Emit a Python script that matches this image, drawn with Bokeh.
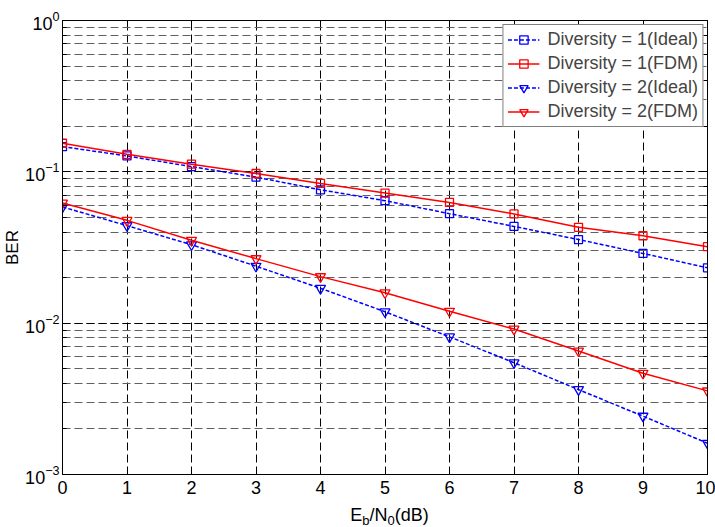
from bokeh.plotting import figure
from bokeh.layouts import column
from bokeh.models import LogAxis, LinearAxis, FixedTicker, Div
from bokeh.embed import file_html
from bokeh.resources import INLINE

ebn0 = [0, 1, 2, 3, 4, 5, 6, 7, 8, 9, 10]
div1_ideal = [0.1467, 0.1274, 0.1083, 0.0923, 0.0761, 0.0645, 0.0529, 0.0436, 0.0357, 0.0289, 0.0232]
div1_fdm = [0.1545, 0.1306, 0.1124, 0.0975, 0.0838, 0.0724, 0.0628, 0.0527, 0.0430, 0.0378, 0.0320]
div2_ideal = [0.0586, 0.0441, 0.0330, 0.0238, 0.0170, 0.0119, 0.00812, 0.00548, 0.00364, 0.00243, 0.00161]
div2_fdm = [0.0622, 0.0478, 0.0353, 0.0267, 0.0203, 0.0159, 0.0120, 0.00914, 0.00655, 0.00467, 0.00357]
x_ticks = [0, 1, 2, 3, 4, 5, 6, 7, 8, 9, 10]
labels = ["Diversity = 1(Ideal)", "Diversity = 1(FDM)", "Diversity = 2(Ideal)", "Diversity = 2(FDM)"]

FONT = "Liberation Sans"
FS = "18px"

p = figure(width=715, height=501, y_axis_type="log", x_range=(0, 10), y_range=(1e-3, 1),
           output_backend="svg", toolbar_location=None,
           min_border_left=62, min_border_right=8, min_border_top=20, min_border_bottom=27)
p.outline_line_color = "black"
p.outline_line_width = 1
p.background_fill_color = "white"

# grids
p.xgrid.ticker = FixedTicker(ticks=x_ticks)
p.xgrid.grid_line_color = "black"
p.xgrid.grid_line_dash = "8 4"
p.xgrid.grid_line_width = 1
p.ygrid.grid_line_color = "black"
p.ygrid.grid_line_dash = "8 4"
p.ygrid.grid_line_width = 1
p.ygrid.minor_grid_line_color = "#606060"
p.ygrid.minor_grid_line_dash = "8 4"
p.ygrid.minor_grid_line_width = 1

# axes
p.xaxis.ticker = FixedTicker(ticks=x_ticks)
for ax in (p.xaxis[0], p.yaxis[0]):
    ax.major_label_text_font = FONT
    ax.major_label_text_font_size = FS
    ax.major_label_text_color = "black"
    ax.axis_line_color = "black"
    ax.major_tick_line_color = "black"
    ax.minor_tick_line_color = "black"
    ax.major_tick_in = 6
    ax.major_tick_out = 0
    ax.minor_tick_in = 4
    ax.minor_tick_out = 0
p.xaxis.minor_tick_line_color = None
p.xaxis.major_label_standoff = 6
p.yaxis.major_label_standoff = 3
p.yaxis.axis_label = "BER"
p.yaxis.axis_label_text_font = FONT
p.yaxis.axis_label_text_font_size = "17px"
p.yaxis.axis_label_text_font_style = "normal"
p.yaxis.axis_label_text_color = "black"
p.yaxis.axis_label_standoff = 0

ra = LogAxis(major_label_text_font_size="1px", major_label_text_alpha=0, major_label_standoff=0,
             major_tick_in=6, major_tick_out=0, minor_tick_in=4, minor_tick_out=0,
             axis_line_color="black", major_tick_line_color="black", minor_tick_line_color="black")
p.add_layout(ra, "right")
ta = LinearAxis(ticker=FixedTicker(ticks=x_ticks), major_label_text_font_size="1px",
                major_label_text_alpha=0, major_label_standoff=0, major_tick_in=6, major_tick_out=0,
                minor_tick_line_color=None, axis_line_color="black", major_tick_line_color="black")
p.add_layout(ta, "above")

# series
series = [
    (div1_ideal, "blue", "4 2", "square", 8),
    (div1_fdm, "red", "solid", "square", 8),
    (div2_ideal, "blue", "4 2", "inverted_triangle", 10),
    (div2_fdm, "red", "solid", "inverted_triangle", 10),
]
for (vals, col, dash, mk, sz), lab in zip(series, labels):
    p.line(ebn0, vals, line_color=col, line_width=1.5, line_dash=dash, legend_label=lab)
    p.scatter(ebn0, vals, marker=mk, size=sz, line_color=col, line_width=1.3,
              fill_color=None, legend_label=lab)

lg = p.legend[0]
lg.location = "top_right"
lg.margin = 4
lg.padding = 4
lg.spacing = 3
lg.glyph_width = 32
lg.glyph_height = 21
lg.label_height = 21
lg.label_standoff = 8
lg.label_text_font = FONT
lg.label_text_font_size = FS
lg.border_line_color = "black"
lg.border_line_width = 1
lg.background_fill_color = "white"
lg.background_fill_alpha = 1

sub_style = "display:inline-block; font-size:13px; line-height:13px; position:relative; top:4px;"
xlabel_html = (
    '<div style="width:645px; margin-left:62px; text-align:center; '
    'font-family:\'Liberation Sans\'; font-size:18px; line-height:18px; color:black; white-space:nowrap;">'
    'E<span style="' + sub_style + '">b</span>/N'
    '<span style="' + sub_style + '">0</span>(dB)</div>'
)
xlabel = Div(text=xlabel_html, width=715, height=26)

layout = column(p, xlabel, spacing=0)
open("out.html", "w").write(file_html(layout, INLINE))
